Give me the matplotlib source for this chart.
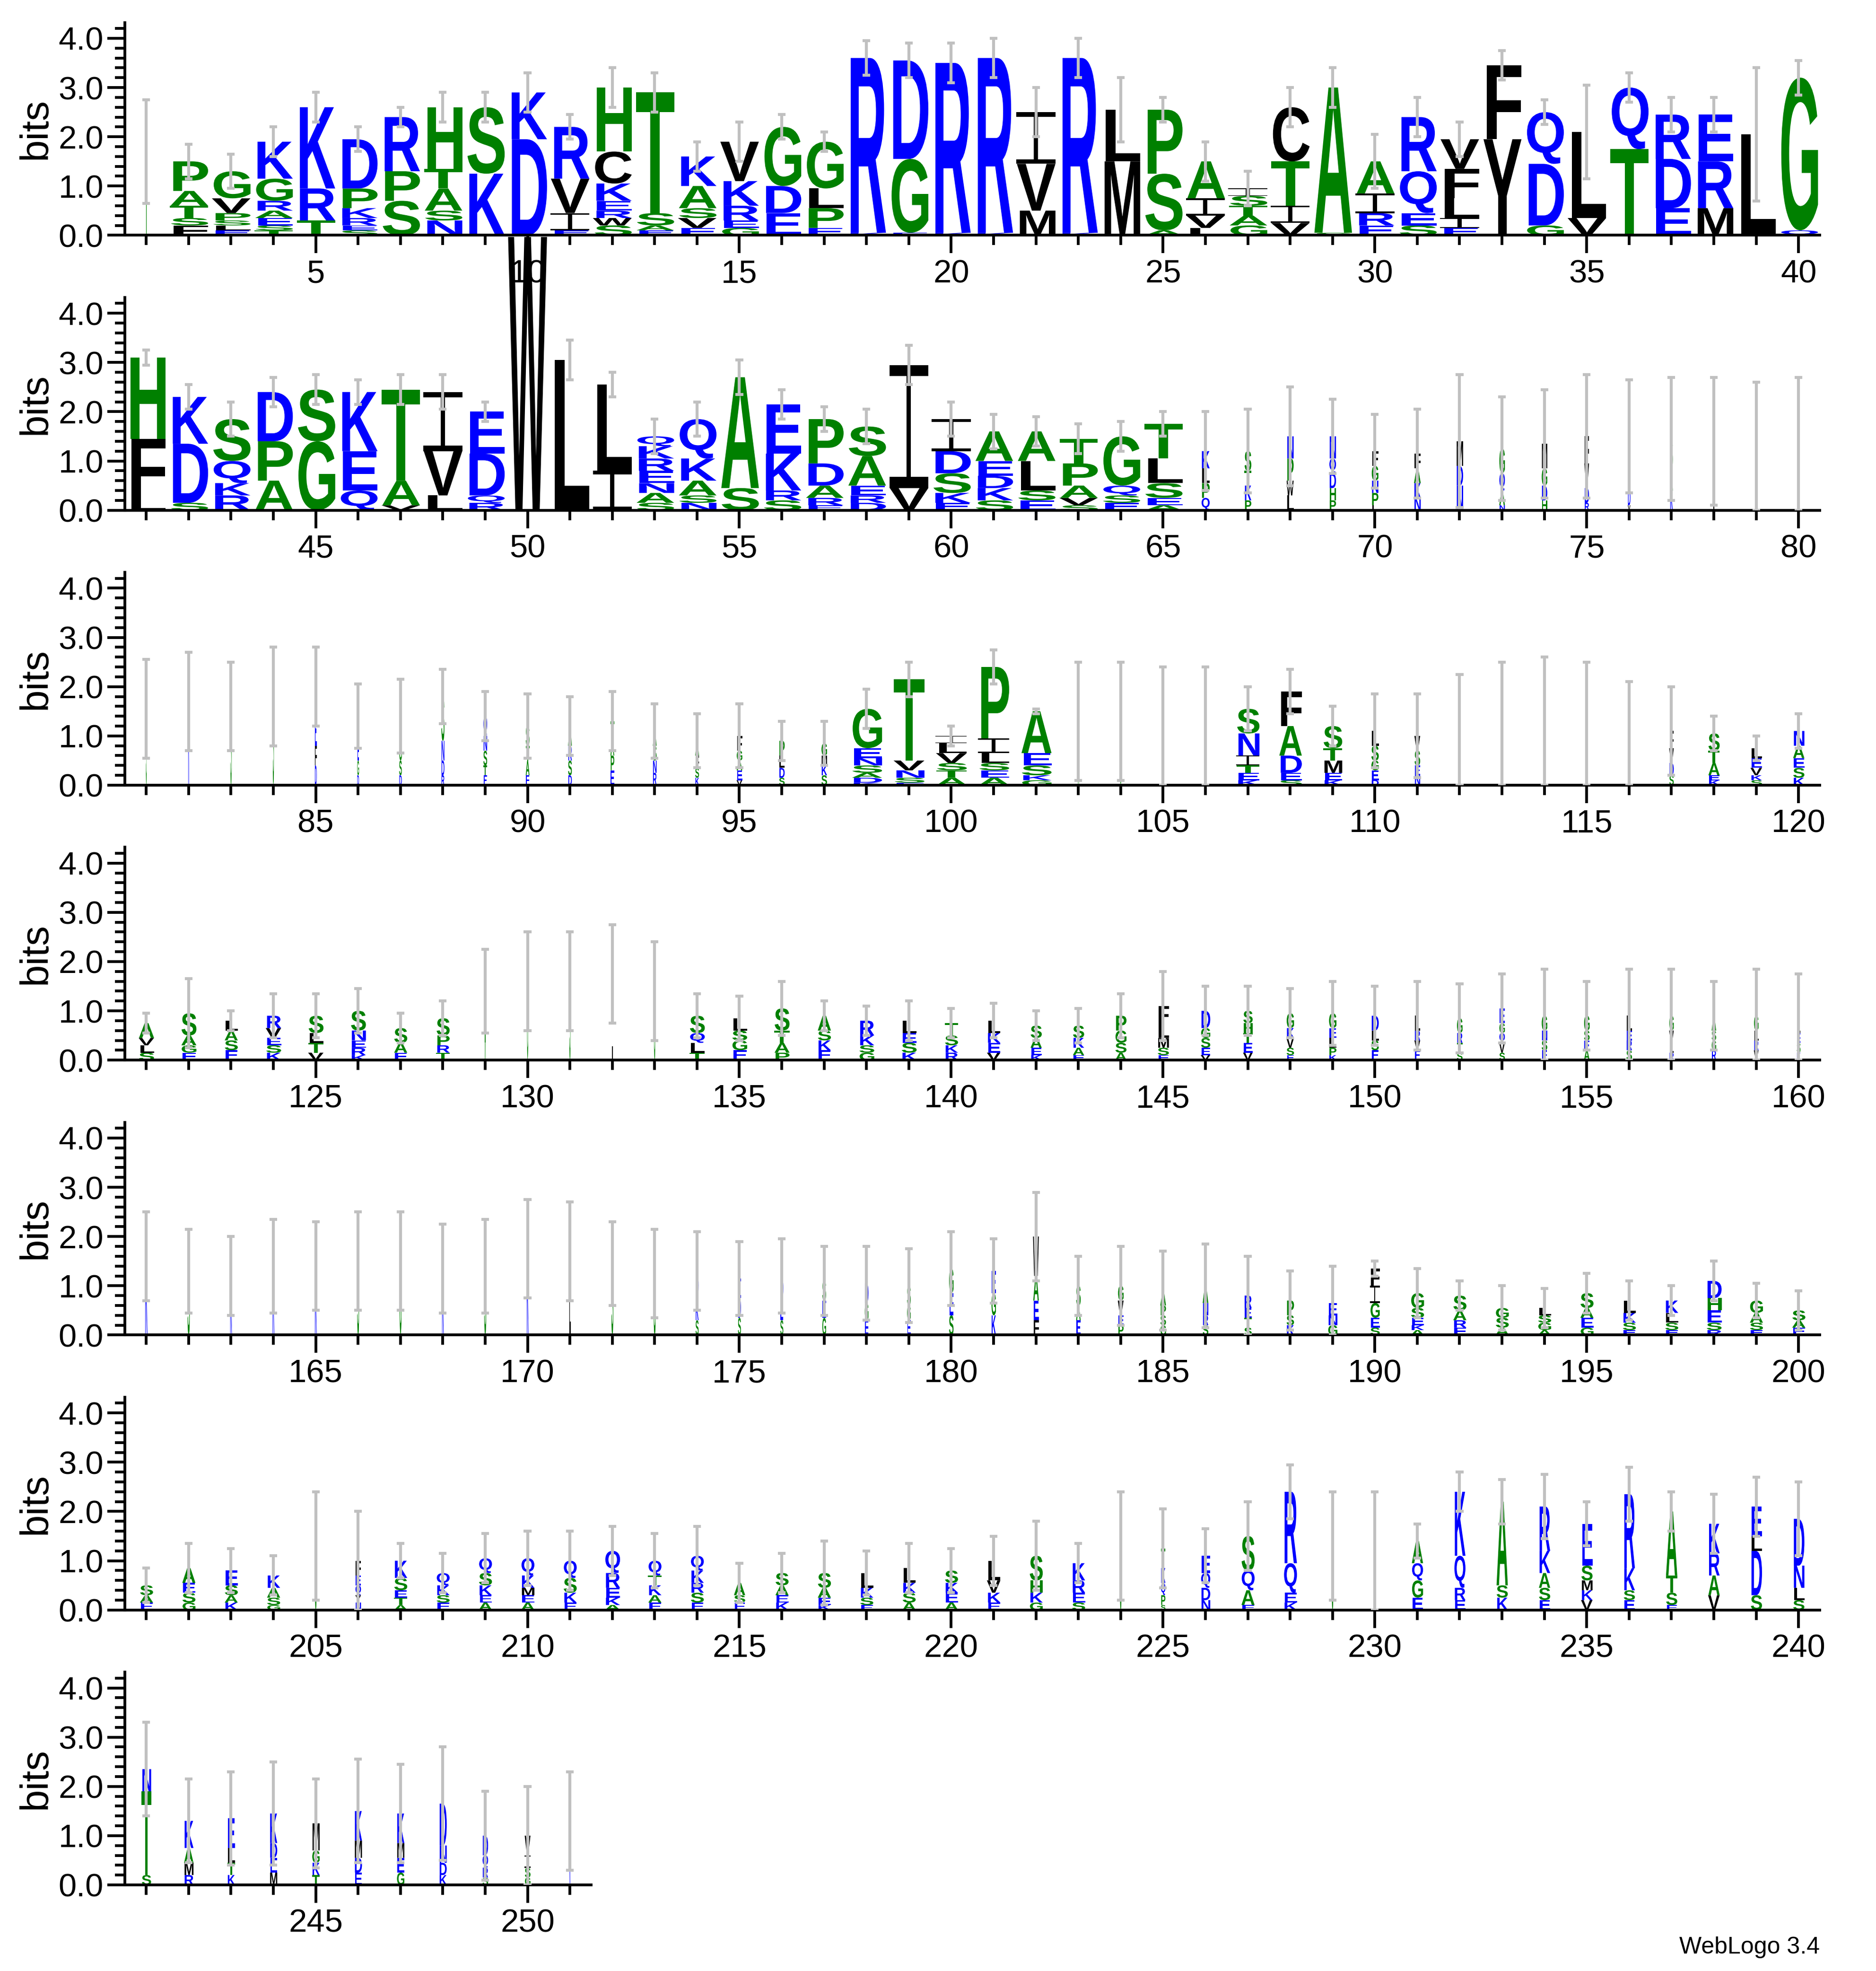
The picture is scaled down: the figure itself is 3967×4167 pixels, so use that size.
import matplotlib
matplotlib.use("Agg")
import matplotlib.pyplot as plt
from matplotlib.textpath import TextPath
from matplotlib.font_manager import FontProperties
from matplotlib.patches import PathPatch
from matplotlib.path import Path
import numpy as np

# ---------------- data (stack letters listed top-first: letter + bits) -------------
stacks_r1 = ["T1.7", "P.6 A.3 T.25 S.15 F.2", "G.55 V.3 P.15 S.1 L.1 E.1", "K.75 G.45 R.2 A.15 E.15 S.1 T.1",
             "K1.65 R.65 T.3", "D1.0 P.4 K.2 R.15 E.1 S.1", "R1.1 P.6 S.7", "H1.25 T.4 A.45 S.2 N.3",
             "S1.35 K1.25", "K.95 D1.95", "R1.05 V.7 I.35 E.1", "H1.3 C.65 K.35 E.2 R.15 W.15 S.2",
             "T2.45 S.25 A.1 E.1", "K.6 A.45 S.2 V.2 E.15", "V.8 K.5 R.3 E.15 G.15", "G1.2 D.55 E.45",
             "G.95 L.4 P.4 E.15", "R3.55 K.05", "D2.0 G1.5 E.05", "R3.45 K.05",
             "R3.55 K.05", "I1.05 V.95 M.5", "R3.55 K.05", "L1.05 M1.5",
             "P1.3 S1.15 A.1", "A.75 I.35 V.25 L.15", "I.15 S.2 T.2 A.2 G.2", "C1.1 T.9 I.35 V.25",
             "A2.95 S.05", "A.65 I.4 R.25 E.2", "R1.1 Q.85 E.25 S.2", "V.6 F.6 L.4 I.2 E.15",
             "F1.5 Y1.95", "Q1.05 D1.25 G.2", "L1.75 V.35", "Q1.25 T1.75",
             "R.9 D1.0 E.55", "E.95 R.95 M.55", "L2.05", "G3.1 Q.1"]
widths_r1 = [.06] + [1] * 39
errs_r1 = [2.75, 1.85, 1.65, 2.2, 2.9, 2.2, 2.6, 2.9, 2.9, 3.3, 2.45, 3.4, 3.3, 1.9, 2.3, 2.45, 2.1, 3.95, 3.9, 3.9,
           4.0, 3.0, 4.0, 3.2, 2.8, 1.9, 1.3, 3.0, 3.4, 2.05, 2.8, 2.3, 3.75, 2.75, 3.05, 3.3, 2.8, 2.8, 3.4, 3.55]

stacks_r2 = ["H1.65 F1.2 L.25", "K.95 D1.2 S.15", "S.85 Q.45 K.25 R.3", "D1.0 P.8 A.6",
             "S1.05 G1.4", "K1.2 E.8 Q.4", "T1.85 A.5 V.1", "I1.2 V.9 L.3",
             "E.85 D.85 Q.15 R.15", "W5.55", "L3.05", "L1.75 I.8",
             "Q.2 K.25 R.25 E.25 N.2 A.2 S.15", "Q.8 K.45 A.3 S.15 N.15", "A2.25 S.45", "E1.0 K.75 R.2 S.2",
             "P.9 D.45 A.25 R.15 E.1", "S.6 A.6 E.2 R.15 D.15", "I2.5 V.45", "I.65 D.45 S.4 K.2 E.15",
             "A.6 E.3 D.25 K.25 S.2", "A.6 L.6 S.2 E.2", "T.5 P.45 A.25 V.15 S.1", "G1.0 Q.2 S.15 E.15",
             "T.7 L.5 S.3 E.15 A.1", "K.35 L.3 P.3 Q.25", "S.4 T.3 K.3 P.2", "N.45 P.45 W.3 L.3",
             "N.45 Q.3 D.3 H.25 P.2", "F.3 G.3 N.25 P.25 L.1", "F.3 A.3 K.3 N.25", "M.5 D.4 N.5",
             "G.5 Q.35 A.3 N.1", "M.5 G.35 D.3 H.2", "F.55 V.5 D.3 R.15", "G.6 S.5 D.3 V.1",
             "S.6 A.45 K.4", "L1.4", "L1.3", "L1.35"]
widths_r2 = [1] * 25 + [.22, .18, .18, .18, .18, .18, .18, .15, .15, .12, .07, .07, .03, .03, .03]
errs_r2 = [3.25, 2.55, 2.2, 2.7, 2.75, 2.65, 2.75, 2.75, 2.2, 0, 3.45, 2.8, 1.85, 2.2, 3.05, 2.45, 2.1, 2.05, 3.35, 2.2,
           1.95, 1.9, 1.75, 1.8, 2.0, 2.0, 2.05, 2.5, 2.25, 1.95, 2.05, 2.75, 2.3, 2.45, 2.75, 2.65, 2.7, 2.7, 2.6, 2.7]

stacks_r3 = ["S1.55", "K1.7", "S1.6", "S1.8", "C.6 E.6 F.4 D.4", "S.5 E.4 G.3 D.2", "E.5 G.4 S.3 D.2",
             "S.9 N.4 D.3 R.2", "Q.4 N.3 S.3 T.2 E.2", "S.4 T.3 A.3 E.2", "A.4 R.3 S.3 D.2", "T.4 A.3 P.3 E.3",
             "A.3 S.3 N.25 R.25", "A.3 F.25 S.2 K.15", "F.3 G.2 A.2 E.2 V.1", "P.3 L.25 D.2 S.15",
             "G.25 M.2 K.2 S.2", "G.8 E.2 N.15 S.15 A.1 D.1 K.05", "T1.65 V.2 N.15 S.1 E.05",
             "I.15 L.2 V.2 S.15 T.15 A.15", "P1.45 I.3 L.2 S.15 E.15 A.15", "A.85 E.25 S.2 K.1 G.1",
             "A1.3", "S1.3", "K1.2", "S1.2", "S.5 N.45 I.2 T.15 E.15 K.1", "F.7 A.6 D.35 E.15 S.1",
             "S.45 T.25 M.25 E.15 K.1", "L.3 S.3 G.2 E.2 D.1", "V.3 S.3 E.2 N.2", "S1.1", "S1.2", "S1.3",
             "K1.25", "S.9", "F.35 V.3 D.25 S.2", "S.35 T.25 A.25 E.1 K.1", "L.2 E.2 V.15 K.1 S.1",
             "N.3 A.25 E.2 S.2 K.15"]
widths_r3 = [.02, .03, .03, .03, .05, .05, .07, .08, .1, .1, .1, .1, .1, .1, .15, .15, .15, .8, .8, .8, .8, .8,
             .03, .03, .04, .03, .6, .6, .5, .2, .15, .05, .04, .04, .03, .05, .12, .3, .3, .3]
errs_r3 = [2.55, 2.7, 2.5, 2.8, 2.8, 2.05, 2.15, 2.35, 1.9, 1.85, 1.8, 1.9, 1.65, 1.45, 1.65, 1.3, 1.3, 1.95, 2.5,
           1.2, 2.75, 1.55, 2.5, 2.5, 2.4, 2.4, 2.0, 2.35, 1.6, 1.85, 1.85, 2.25, 2.5, 2.6, 2.5, 2.1, 2.0, 1.4,
           1.0, 1.45]

stacks_r4 = ["A.3 V.15 L.15 S.15", "S.45 A.2 G.15 E.15", "L.2 A.2 S.2 E.2", "R.25 V.2 E.15 S.15 K.15",
             "S.35 L.2 T.2 V.15", "S.4 N.2 E.15 R.15 K.1", "S.3 A.2 E.15", "S.35 P.2 R.15 T.15",
             "A1.4", "G1.6", "S1.6", "L1.75", "S1.4",
             "S.35 Q.2 L.2 T.15", "L.25 S.2 G.2 E.2", "S.45 T.25 A.2 P.15", "A.3 S.2 K.2 E.2",
             "R.3 K.2 S.15 G.15", "L.25 E.2 S.2 K.15", "T.25 S.2 K.15 R.15", "L.25 K.2 E.2 V.15",
             "S.25 A.2 E.15 K.1", "S.25 K.2 A.15 E.1", "P.3 G.25 S.2 A.15", "F.35 L.3 M.2 S.15 E.1",
             "D.35 G.2 S.2 E.15 V.1", "S.25 H.2 T.2 E.2 V.15", "G.3 K.2 V.2 S.15 E.1", "G.3 E.2 L.2 P.15 K.1",
             "D.3 L.2 S.2 E.2", "L.3 R.2 V.2 E.2", "G.3 R.2 T.2 S.15", "E.3 G.2 Q.2 V.2 S.15",
             "G.3 N.2 S.2 E.2", "G.3 S.2 E.2 A.2", "L.3 E.2 R.2 S.2", "G.3 V.25 L.2 R.15",
             "A.3 S.2 G.2 R.2", "G.3 L.2 R.2 V.2", "L.3 E.2 S.2 K.15"]
widths_r4 = [.4, .4, .35, .4, .4, .4, .35, .35, .03, .03, .03, .03, .03, .4, .4, .4, .35, .4, .4, .35, .35,
             .3, .3, .3, .3, .25, .25, .2, .2, .2, .15, .15, .15, .15, .15, .15, .12, .12, .12, .1]
errs_r4 = [.95, 1.65, 1.0, 1.35, 1.35, 1.45, .95, 1.2, 2.25, 2.6, 2.6, 2.75, 2.4, 1.35, 1.3, 1.6, 1.2, 1.1,
           1.2, 1.05, 1.15, 1.0, 1.05, 1.35, 1.8, 1.5, 1.5, 1.45, 1.6, 1.5, 1.6, 1.55, 1.75, 1.85, 1.6, 1.85,
           1.85, 1.6, 1.85, 1.75]

stacks_r5 = ["K1.6", "S1.3", "K1.2", "K1.4", "K1.4", "S1.5", "G1.5", "K1.35", "S1.4", "K1.75", "L1.7",
             "S1.45", "S1.25", "D.6 K.4 S.3", "E.4 D.4 S.35", "D.5 E.4 S.3", "S.4 E.35 G.35",
             "D.4 G.35 E.3", "S.4 G.3 E.3", "G.5 E.45 S.4", "E.45 G.45 K.4", "W.8 A.5 E.4 F.3",
             "S.4 A.3 E.3", "G.3 V.3 E.2 P.2", "A.3 P.2 S.2 G.2", "A.35 N.25 R.2 S.2", "R.25 E.2 T.2 S.15",
             "P.3 S.2 K.2", "E.25 N.2 G.2", "F.35 I.35 G.3 E.2 S.15", "G.3 S.2 E.15 K.1 A.1",
             "S.3 A.2 R.15 E.15", "G.2 S.2 A.15", "L.15 S.15 G.15 A.1", "S.3 A.2 E.2 G.15",
             "L.25 K.2 S.15 E.1", "K.25 L.2 S.15 E.1", "D.35 H.25 E.25 S.15 R.1", "G.25 A.2 S.15 E.1",
             "S.2 A.15 E.15"]
widths_r5 = [.06, .06, .05, .05, .05, .05, .05, .05, .05, .05, .05, .05, .05, .08, .08, .08, .1, .1, .1, .12,
             .12, .15, .12, .15, .15, .15, .2, .2, .25, .25, .35, .35, .35, .35, .35, .35, .35, .4, .35, .35]
errs_r5 = [2.5, 2.15, 2.0, 2.35, 2.3, 2.5, 2.5, 2.25, 2.35, 2.75, 2.7, 2.3, 2.15, 2.1, 1.9, 1.95, 1.8, 1.8,
           1.75, 2.1, 1.95, 2.9, 1.6, 1.8, 1.7, 1.85, 1.6, 1.3, 1.4, 1.5, 1.35, 1.1, 1.0, .95, 1.25, 1.1, 1.0,
           1.5, 1.05, .9]

stacks_r6 = ["S.2 A.15 E.15", "A.3 E.2 S.2 G.15", "E.3 S.2 A.15 K.15", "K.25 A.2 S.15 G.1", "S1.3",
             "F.3 E.2 Q.2 Y.15 N.15", "K.35 S.25 E.15 T.15 A.1", "Q.25 K.2 S.15 E.15", "Q.3 S.25 K.2 E.15 A.15",
             "Q.35 K.25 M.15 E.15 A.15", "Q.35 S.3 K.2 E.15", "Q.45 R.3 E.2 K.15 A.1", "Q.3 T.2 K.2 A.15 E.15",
             "Q.3 K.25 R.2 S.2 E.15", "A.25 S.15 E.15", "S.25 A.2 E.15 K.15", "S.3 A.2 E.15 K.1",
             "L.3 K.2 S.15 E.1", "L.3 K.2 S.2 A.15", "S.25 K.2 E.2 A.15", "L.4 V.25 K.2 E.15",
             "S.5 H.25 K.2 G.15", "K.35 R.25 E.2 S.15", "S1.3", "T.4 K.3 Q.25 P.2 S.1",
             "E.35 Q.3 D.25 N.2", "S.7 Q.4 A.3 E.1", "R1.45 Q.6 E.2 K.15", "S1.3", "A1.2",
             "A.45 Q.35 G.35 E.25", "K1.3 Q.65 R.25 E.2", "A1.7 S.25 K.25", "R.9 K.45 A.3 S.25 E.2",
             "E.85 S.3 M.2 K.2 V.2", "R1.5 K.45 S.2 E.2", "A1.3 T.35 S.25 E.1", "K.6 R.45 A.4 V.3",
             "E.6 L.3 D.9 S.3", "D.95 N.45 L.25 S.2"]
widths_r6 = [.35, .35, .35, .35, .04, .15, .35, .35, .35, .35, .35, .4, .35, .35, .3, .35, .35, .35, .35, .35,
             .35, .35, .35, .04, .12, .25, .35, .35, .04, .02, .3, .3, .3, .3, .3, .3, .3, .3, .3, .3]
errs_r6 = [.85, 1.35, 1.25, 1.1, 2.4, 2.0, 1.35, 1.15, 1.55, 1.6, 1.6, 1.7, 1.55, 1.7, .95, 1.15, 1.4, 1.2,
           1.35, 1.25, 1.5, 1.8, 1.35, 2.4, 2.05, 1.65, 2.2, 2.95, 2.4, 2.4, 1.75, 2.8, 2.65, 2.75, 2.2, 2.9,
           2.4, 2.35, 2.7, 2.6]

stacks_r7 = ["N.45 T1.7 S.2", "K.55 A.3 M.25 R.2", "E.6 L.3 T.25 K.2", "K.6 D.3 E.3 M.25",
             "M.55 G.25 K.25 T.2", "K.6 M.35 D.3 E.25", "K.6 M.3 E.3 G.25", "D.85 N.35 D.25 K.2",
             "D.4 Q.25 R.2 S.15", "V.4 I.25 S.2 G.15", "K1.3"]
widths_r7 = [.25, .25, .2, .2, .2, .2, .2, .2, .15, .15, .03]
errs_r7 = [3.3, 2.15, 2.3, 2.5, 2.15, 2.55, 2.45, 2.8, 1.9, 2.0, 2.3]

stacks = stacks_r1 + stacks_r2 + stacks_r3 + stacks_r4 + stacks_r5 + stacks_r6 + stacks_r7
widths = widths_r1 + widths_r2 + widths_r3 + widths_r4 + widths_r5 + widths_r6 + widths_r7
errs = errs_r1 + errs_r2 + errs_r3 + errs_r4 + errs_r5 + errs_r6 + errs_r7
positions = list(range(1, len(stacks) + 1))

colors = {}
for c in "RKDENQ":
    colors[c] = "#0000ff"
for c in "SGHTAP":
    colors[c] = "#008000"
for c in "YVMCLFIW":
    colors[c] = "#000000"

# ---------------- drawing -------------
W, H = 3967, 4167
fig = plt.figure(figsize=(W / 300, H / 300), dpi=300)
fp = FontProperties(family="Liberation Sans", weight="bold")
label_font = "Liberation Sans"
glyph_cache = {}


def glyph(ch):
    if ch not in glyph_cache:
        if ch == "I":
            t = 0.09
            s = 0.11
            rects = [(0, 1 - t, 1, 1), (0.5 - s / 2, t, 0.5 + s / 2, 1 - t), (0, 0, 1, t)]
            verts, codes = [], []
            for a, b, c, d in rects:
                verts += [(a, b), (c, b), (c, d), (a, d), (a, b)]
                codes += [Path.MOVETO, Path.LINETO, Path.LINETO, Path.LINETO, Path.CLOSEPOLY]
            v = np.array(verts, float)
            glyph_cache[ch] = (v, np.array(codes, np.uint8), 0.0, 1.0, 0.0, 1.0)
        else:
            tp = TextPath((0, 0), ch, size=1, prop=fp)
            v = tp.vertices
            glyph_cache[ch] = (v.copy(), tp.codes, v[:, 0].min(), v[:, 0].max(), v[:, 1].min(), v[:, 1].max())
    return glyph_cache[ch]


def parse(s):
    return [(tok[0], float(tok[1:])) for tok in s.split()]


disp_h = 1575.0
row_bottoms = [188 + 219.7 * i for i in range(7)]
for r in range(7):
    start = r * 40 + 1
    end = min(start + 39, len(stacks))
    npos = end - start + 1
    left = 100 / 1500
    width = 1355 / 1500 * npos / 40
    bottom = 1 - row_bottoms[r] / disp_h
    ax = fig.add_axes([left, bottom, width, 170 / disp_h])
    ax.set_xlim(start - 0.5, start - 0.5 + npos)
    ax.set_ylim(0, 4.32)
    for p in range(start, end + 1):
        i = p - 1
        items = parse(stacks[i])[::-1]
        w = 0.92 * widths[i]
        y = 0.0
        for ch, h in items:
            v, codes, x0, x1, y0, y1 = glyph(ch)
            nv = np.empty_like(v)
            nv[:, 0] = p - w / 2 + (v[:, 0] - x0) / (x1 - x0) * w
            nv[:, 1] = y + (v[:, 1] - y0) / (y1 - y0) * h
            ax.add_patch(PathPatch(Path(nv, codes), facecolor=colors[ch], edgecolor="none",
                                   clip_on=False, zorder=2))
            y += h
        if errs[i] > 0:
            lo = max(0.0, 2 * y - errs[i])
            ax.plot([p, p], [lo, errs[i]], color="#c0c0c0", lw=1.5, zorder=3, solid_capstyle="butt")
            for yy in (lo, errs[i]):
                ax.plot([p - 0.09, p + 0.09], [yy, yy], color="#c0c0c0", lw=1.5, zorder=3,
                        solid_capstyle="butt")
    for s in ("top", "right"):
        ax.spines[s].set_visible(False)
    ax.spines["left"].set_linewidth(1.4)
    ax.spines["bottom"].set_linewidth(1.4)
    ax.set_yticks([0, 1, 2, 3, 4])
    ax.set_yticklabels(["0.0", "1.0", "2.0", "3.0", "4.0"], fontsize=16.5, family=label_font)
    ax.set_yticks(np.arange(0, 4.3, 0.2), minor=True)
    ax.tick_params(axis="y", which="major", length=9, width=1.4, pad=2)
    ax.tick_params(axis="y", which="minor", length=5, width=1.4)
    xt = [x for x in range(start, end + 1) if x % 5 == 0]
    ax.set_xticks(xt)
    ax.set_xticklabels([str(x) for x in xt], fontsize=16.5, family=label_font)
    ax.set_xticks(list(range(start, end + 1)), minor=True)
    ax.tick_params(axis="x", which="major", length=9, width=1.4, pad=3)
    ax.tick_params(axis="x", which="minor", length=5, width=1.4)
    ax.set_ylabel("bits", fontsize=20, family=label_font, labelpad=2)

fig.text(1455 / 1500, 1 - 1556 / disp_h, "WebLogo 3.4", ha="right", va="center", fontsize=12, family=label_font)
fig.savefig("out.png", dpi=300)
